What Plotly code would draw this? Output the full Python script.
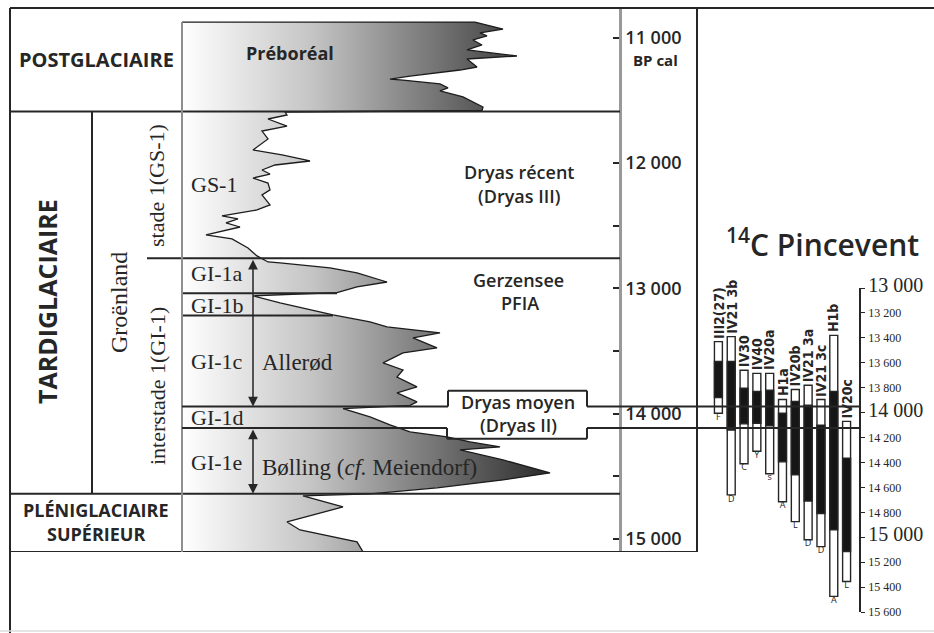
import plotly.graph_objects as go

W, H = 934, 633
SANS = "Open Sans"
SERIF = "Liberation Serif"
NARROW = "Liberation Sans Narrow, DejaVu Sans Condensed, Open Sans"
INK = "#262626"

# ---------------- data ----------------
# Greenland-type climate curve: age (cal BP) and relative warmth index (0 = panel left edge)
curve_age = [10875, 10875, 10931, 10962, 10986, 11018, 11058, 11098, 11146, 11170,
             11234, 11258, 11306, 11330, 11338, 11369, 11401, 11425, 11473, 11553, 11581,
             11593, 11617, 11649, 11705, 11745, 11808, 11896, 11936, 11984, 12016,
             12056, 12088, 12120, 12160, 12215, 12255, 12335, 12375, 12423, 12447,
             12479, 12511, 12574, 12606, 12678, 12742, 12790,
             12798, 12838, 12878, 12950, 12989, 13035, 13060,
             13117, 13213, 13269, 13309, 13333, 13356, 13396, 13476, 13516, 13596,
             13652, 13708, 13787, 13835, 13907, 13935, 13960,
             14027, 14091, 14147, 14186, 14226, 14266, 14290, 14370, 14474, 14530, 14593, 14641,
             14657, 14745, 14865, 14929, 15024, 15104]
curve_val = [0, 293, 321, 298, 305, 291, 300, 285, 335, 285,
             295, 278, 228, 208, 221, 258, 266, 258, 281, 301, 300,
             103, 105, 86, 105, 80, 86, 71, 100, 128, 93,
             80, 88, 71, 86, 88, 80, 88, 75, 40, 56,
             44, 58, 24, 50, 66, 75, 86,
             98, 148, 175, 205, 175, 155, 71,
             98, 151, 188, 205, 231, 258, 231, 255, 221, 201,
             221, 215, 235, 215, 235, 228, 161,
             188, 208, 228, 265, 288, 318, 278, 321, 368, 321, 255, 188,
             121, 161, 105, 118, 175, 181]

# chronozone boundaries (cal BP)
age_top = 10763
age_preboreal_top = 10875
b_holocene = 11590
b_gs1 = 12760
b_gi1a_1b = 13040
b_gi1b_1c = 13218
b_gi1c_1d = 13943
b_gi1d_1e = 14115
b_gi1e = 14640
age_bottom = 15105
dryas_moyen_top = 13817
dryas_moyen_bottom = 14202

cal_tickvals = [11000, 12000, 12500, 13000, 13500, 14000, 14500, 15000]
cal_ticktext = ["11 000", "12 000", "", "13 000", "", "14 000", "", "15 000"]

# 14C dates of Pincevent (BP): 2-sigma and 1-sigma ranges
c14_names = ["III2(27)", "IV21 3b", "IV30", "IV40", "IV20a", "H1a",
             "IV20b", "IV21 3a", "IV21 3c", "H1b", "IV20c"]
c14_codes = ["F", "D", "C", "Y", "s", "A", "L", "D", "D", "A", "L"]
c14_2s_top = [13430, 13390, 13660, 13685, 13685, 13895, 13815, 13780, 13895, 13380, 14070]
c14_1s_top = [13590, 13590, 13805, 13830, 13820, 14005, 13910, 13940, 14100, 13830, 14365]
c14_1s_bot = [13880, 14140, 14090, 14085, 14105, 14395, 14500, 14710, 14810, 14940, 15115]
c14_2s_bot = [14005, 14660, 14410, 14310, 14490, 14715, 14875, 15020, 15075, 15475, 15355]

c14_tickvals = [13000, 13200, 13400, 13600, 13800, 14000, 14200, 14400,
                14600, 14800, 15000, 15200, 15400, 15600]
c14_ticklabels = ["13 000", "13 200", "13 400", "13 600", "13 800", "14 000", "14 200",
                  "14 400", "14 600", "14 800", "15 000", "15 200", "15 400", "15 600"]
c14_major = [True, False, False, False, False, True, False, False,
             False, False, True, False, False, False]

assert len(curve_age) == len(curve_val)


def X(p):
    return p / W


def Y(p):
    return 1 - p / H


fig = go.Figure()

# climate curve with horizontal gradient fill
fig.add_trace(go.Scatter(
    x=curve_val, y=curve_age, mode="lines", xaxis="x", yaxis="y",
    line=dict(color="#1c1c1c", width=1.3),
    fill="tozerox",
    fillgradient=dict(type="horizontal", start=0, stop=375,
                      colorscale=[[0, "#ffffff"], [0.35, "#c4c4c4"], [1, "#262626"]]),
    hoverinfo="skip"))

# 14C bars
fig.add_trace(go.Bar(
    x=c14_names, base=c14_2s_top,
    y=[b - t for t, b in zip(c14_2s_top, c14_2s_bot)],
    width=0.62, xaxis="x2", yaxis="y2",
    marker=dict(color="white", line=dict(color=INK, width=1.4)), hoverinfo="skip"))
fig.add_trace(go.Bar(
    x=c14_names, base=c14_1s_top,
    y=[b - t for t, b in zip(c14_1s_top, c14_1s_bot)],
    width=0.62, xaxis="x2", yaxis="y2",
    marker=dict(color="#161616", line=dict(color=INK, width=1.4)), hoverinfo="skip"))
fig.add_trace(go.Scatter(
    x=c14_names, y=c14_2s_bot, mode="text", text=c14_codes,
    textposition="bottom center", xaxis="x2", yaxis="y2",
    textfont=dict(family=SANS, size=9, color=INK), hoverinfo="skip"))

# ---------------- table lines ----------------
shapes = []


def seg(x0, y0, x1, y1, xref="paper", yref="y", color=INK, width=2):
    shapes.append(dict(type="line", xref=xref, yref=yref, x0=x0, y0=y0, x1=x1, y1=y1,
                       line=dict(color=color, width=width), layer="above"))


def poly(pts, yref="y"):
    for (xa, ya), (xb, yb) in zip(pts[:-1], pts[1:]):
        seg(X(xa), ya, X(xb), yb, yref=yref)


seg(X(10), Y(8), X(934), Y(8), yref="paper")
seg(X(10), Y(8), X(10), Y(633), yref="paper")
seg(X(0), Y(631), X(934), Y(631), yref="paper", color="#dcdcdc", width=1.5)
seg(X(697), Y(8), X(697), Y(552), yref="paper")
seg(X(10), age_bottom, X(697), age_bottom)
seg(X(10), b_holocene, X(620), b_holocene)
seg(X(147), b_gs1, X(620), b_gs1)
seg(0, b_gi1a_1b, 155, b_gi1a_1b, xref="x")
seg(0, b_gi1b_1c, 151, b_gi1b_1c, xref="x")
seg(X(10), b_gi1e, X(620), b_gi1e)
seg(X(92), b_holocene, X(92), b_gi1e)
seg(X(182), age_preboreal_top, X(182), age_bottom, color="#8f8f8f", width=2)
poly([(182, b_gi1c_1d), (448, b_gi1c_1d), (448, dryas_moyen_top), (587, dryas_moyen_top),
      (587, b_gi1c_1d), (860, b_gi1c_1d)])
poly([(182, b_gi1d_1e), (447, b_gi1d_1e), (447, dryas_moyen_bottom), (587, dryas_moyen_bottom),
      (587, b_gi1d_1e), (860, b_gi1d_1e)])

# ---------------- texts ----------------
ann = []


def text(x, y, s, size, family=SANS, weight=700, angle=0, xanchor="center", color=INK):
    ann.append(dict(xref="paper", yref="paper", x=X(x), y=Y(y), text=s, showarrow=False,
                    textangle=angle, xanchor=xanchor, yanchor="middle",
                    font=dict(family=family, size=size, color=color, weight=weight)))


text(96, 60, "POSTGLACIAIRE", 20)
text(47, 302, "TARDIGLACIAIRE", 25, angle=-90)
text(119, 302, "Groënland", 24, SERIF, 400, -90)
text(157, 186, "stade 1(GS-1)", 22, SERIF, 400, -90)
text(157, 386, "interstade 1(GI-1)", 22, SERIF, 400, -90)
text(96, 510, "PLÉNIGLACIAIRE", 18)
text(96, 534, "SUPÉRIEUR", 18)
text(290, 53, "Préboréal", 18)
text(189, 184, "GS-1", 22, SERIF, 400, xanchor="left")
text(189, 274, "GI-1a", 22, SERIF, 400, xanchor="left")
text(189, 305, "GI-1b", 22, SERIF, 400, xanchor="left")
text(189, 361, "GI-1c", 22, SERIF, 400, xanchor="left")
text(189, 417, "GI-1d", 22, SERIF, 400, xanchor="left")
text(189, 462, "GI-1e", 22, SERIF, 400, xanchor="left")
text(260, 362, "Allerød", 23, SERIF, 400, xanchor="left")
text(260, 467, "Bølling (<i>cf.</i> Meiendorf)", 23, SERIF, 400, xanchor="left")
text(519, 172, "Dryas récent", 18, SANS, 600)
text(519, 196, "(Dryas III)", 18, SANS, 600)
text(518, 280, "Gerzensee", 18, SANS, 600)
text(520, 303, "PFIA", 18, SANS, 600)
text(518, 402, "Dryas moyen", 18, SANS, 600)
text(518, 425, "(Dryas II)", 18, SANS, 600)
text(655, 60, "BP cal", 15, SANS, 700)
text(822, 243, "<sup>14</sup>C Pincevent", 30, SANS, 600)

# double arrows (Allerød, Bølling)
for a0, a1 in [(b_gs1, b_gi1c_1d), (b_gi1d_1e, b_gi1e)]:
    ann.append(dict(xref="x", yref="y", axref="x", ayref="y", x=71, y=a1, ax=71, ay=a0,
                    text="", showarrow=True, arrowside="end+start", arrowhead=2,
                    startarrowhead=2, arrowsize=1.3, startarrowsize=1.3, arrowwidth=1.5,
                    arrowcolor=INK, standoff=0, startstandoff=0))

# 14C sample names above bars
for name, top in zip(c14_names, c14_2s_top):
    ann.append(dict(xref="x2", yref="y2", x=name, y=top, text=name, textangle=-90,
                    xanchor="center", yanchor="bottom", yshift=1, showarrow=False,
                    font=dict(family=NARROW, size=14, color=INK, weight=700)))

c14_ticktext = [f'<span style="font-size:20px">{t}</span>' if m else t
                for t, m in zip(c14_ticklabels, c14_major)]

fig.update_layout(
    width=W, height=H, autosize=False,
    margin=dict(l=0, r=0, t=0, b=0, pad=0, autoexpand=False),
    paper_bgcolor="white", plot_bgcolor="rgba(0,0,0,0)",
    showlegend=False, barmode="overlay",
    xaxis=dict(domain=[X(182), X(620)], range=[0, 438], visible=False, anchor="y"),
    yaxis=dict(domain=[Y(552), Y(8)], range=[age_bottom, age_top], anchor="free",
               position=X(620), side="right", showgrid=False, zeroline=False,
               showline=True, linecolor="#999999", linewidth=2.5,
               ticks="inside", ticklen=6, tickwidth=2, tickcolor=INK,
               tickvals=cal_tickvals, ticktext=cal_ticktext, ticklabelstandoff=0,
               tickfont=dict(family=SANS, size=18, color=INK, weight=600)),
    xaxis2=dict(domain=[X(712), X(853)], anchor="y2", visible=False,
                type="category", range=[-0.5, 10.5]),
    yaxis2=dict(domain=[Y(612), Y(288)], range=[15600, 13000], anchor="free",
                position=X(860), side="right", showgrid=False, zeroline=False,
                showline=True, linecolor=INK, linewidth=1.5,
                ticks="outside", ticklen=4, tickwidth=1.2, tickcolor=INK,
                tickvals=c14_tickvals, ticktext=c14_ticktext, ticklabelstandoff=1,
                tickfont=dict(family=SERIF, size=12, color=INK)),
    shapes=shapes, annotations=ann,
)

fig.write_html("out.html", config={"responsive": False, "displayModeBar": False},
               post_script="document.body.style.margin='0px';")
